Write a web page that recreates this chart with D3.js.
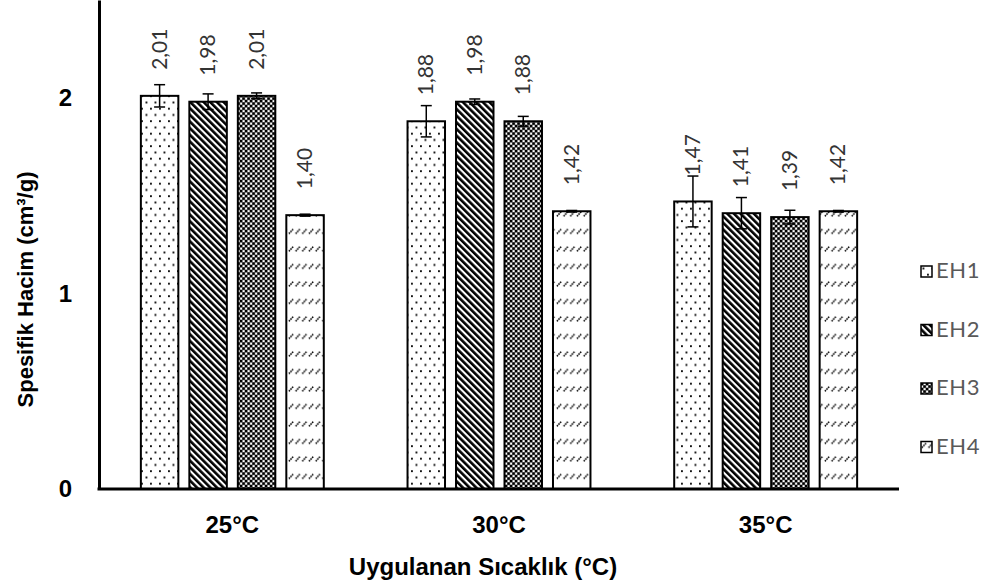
<!DOCTYPE html>
<html>
<head>
<meta charset="utf-8">
<script src="https://cdn.jsdelivr.net/npm/d3@7"></script>
<style>
  html, body { margin: 0; padding: 0; background: #fff; }
  svg { display: block; }
</style>
</head>
<body>
<svg id="chart" width="991" height="583"></svg>
<script>
// Specific volume of four formulations at three applied temperatures
const categories = ["25°C", "30°C", "35°C"];
const seriesNames = ["EH1", "EH2", "EH3", "EH4"];
const eh1 = [2.01, 1.88, 1.47];
const eh2 = [1.98, 1.98, 1.41];
const eh3 = [2.01, 1.88, 1.39];
const eh4 = [1.40, 1.42, 1.42];
const eh1Err = [0.057, 0.08, 0.13];
const eh2Err = [0.04, 0.014, 0.08];
const eh3Err = [0.015, 0.025, 0.035];
const eh4Err = [0.005, 0.004, 0.004];
const yTickValues = [0, 1, 2];
const yTitle = "Spesifik Hacim (cm³/g)";
const xTitle = "Uygulanan Sıcaklık (°C)";

const seriesValues = [eh1, eh2, eh3, eh4];
const seriesErrors = [eh1Err, eh2Err, eh3Err, eh4Err];

const rows = [];
categories.forEach((c, ci) => {
  seriesNames.forEach((s, si) => {
    rows.push({ cat: c, series: s, si, value: seriesValues[si][ci], err: seriesErrors[si][ci] });
  });
});

const svg = d3.select("#chart");
const plotLeft = 99, plotRight = 899, plotBottom = 489, plotTop = 0;
const axisFont = "'Liberation Sans', Arial, sans-serif";
const labelFont = "Lato, 'Open Sans', sans-serif";

// ---- fill patterns ----
const defs = svg.append("defs");

// EH1: sparse staggered dots
const p1 = defs.append("pattern").attr("id", "pat-EH1").attr("patternUnits", "userSpaceOnUse")
  .attr("width", 9).attr("height", 12.5);
p1.append("rect").attr("width", 9).attr("height", 12.5).attr("fill", "#fff");
p1.append("rect").attr("x", 1.5).attr("y", 1.5).attr("width", 1.9).attr("height", 1.9).attr("fill", "#111");
p1.append("rect").attr("x", 6).attr("y", 7.75).attr("width", 1.9).attr("height", 1.9).attr("fill", "#111");

// EH2: wide downward diagonal stripes
const p2 = defs.append("pattern").attr("id", "pat-EH2").attr("patternUnits", "userSpaceOnUse")
  .attr("width", 4.7).attr("height", 10).attr("patternTransform", "rotate(-45)");
p2.append("rect").attr("width", 4.7).attr("height", 10).attr("fill", "#fff");
p2.append("rect").attr("width", 2.6).attr("height", 10).attr("fill", "#000");

// EH3: small checker / diamond mesh
const p3 = defs.append("pattern").attr("id", "pat-EH3").attr("patternUnits", "userSpaceOnUse")
  .attr("width", 5).attr("height", 5);
p3.append("rect").attr("width", 5).attr("height", 5).attr("fill", "#666");
p3.append("rect").attr("x", 0).attr("y", 0).attr("width", 2.2).attr("height", 2.2).attr("fill", "#000");
p3.append("rect").attr("x", 2.5).attr("y", 2.5).attr("width", 2.2).attr("height", 2.2).attr("fill", "#000");
p3.append("rect").attr("x", 2.7).attr("y", 0.2).attr("width", 1.8).attr("height", 1.8).attr("fill", "#fff");
p3.append("rect").attr("x", 0.2).attr("y", 2.7).attr("width", 1.8).attr("height", 1.8).attr("fill", "#fff");

// EH4: rows of short upward dashes
const p4 = defs.append("pattern").attr("id", "pat-EH4").attr("patternUnits", "userSpaceOnUse")
  .attr("width", 6.7).attr("height", 17.5);
p4.append("rect").attr("width", 6.7).attr("height", 17.5).attr("fill", "#fff");
p4.append("line").attr("x1", 0.8).attr("y1", 6.2).attr("x2", 5.4).attr("y2", 1.2)
  .attr("stroke", "#000").attr("stroke-width", 1.5).attr("stroke-dasharray", "1.6 0.7");

// ---- scales ----
const x0 = d3.scaleBand().domain(categories).range([plotLeft, plotRight]).paddingInner(0.314).paddingOuter(0.157);
const x1 = d3.scaleBand().domain(seriesNames).range([0, x0.bandwidth()]).paddingInner(0.227).paddingOuter(0);
const y = d3.scaleLinear().domain([0, 2.5]).range([plotBottom, plotTop]);

// ---- bars ----
const g = svg.append("g");
g.selectAll("rect.bar").data(rows).join("rect")
  .attr("class", "bar")
  .attr("x", d => x0(d.cat) + x1(d.series))
  .attr("y", d => y(d.value))
  .attr("width", x1.bandwidth())
  .attr("height", d => y(0) - y(d.value))
  .attr("fill", d => `url(#pat-${d.series})`)
  .attr("stroke", "#000")
  .attr("stroke-width", 2);

// ---- error bars ----
const cap = 5.5;
const eb = g.selectAll("g.err").data(rows).join("g").attr("class", "err")
  .attr("transform", d => `translate(${x0(d.cat) + x1(d.series) + x1.bandwidth() / 2},0)`);
eb.append("line").attr("x1", 0).attr("x2", 0)
  .attr("y1", d => y(d.value + d.err)).attr("y2", d => y(d.value - d.err))
  .attr("stroke", "#000").attr("stroke-width", 1.5);
eb.append("line").attr("x1", -cap).attr("x2", cap)
  .attr("y1", d => y(d.value + d.err)).attr("y2", d => y(d.value + d.err))
  .attr("stroke", "#000").attr("stroke-width", 1.5);
eb.append("line").attr("x1", -cap).attr("x2", cap)
  .attr("y1", d => y(d.value - d.err)).attr("y2", d => y(d.value - d.err))
  .attr("stroke", "#000").attr("stroke-width", 1.5);

// ---- value labels (rotated) ----
const fmt = v => d3.format(".2f")(v).replace(".", ",");
g.selectAll("text.val").data(rows).join("text")
  .attr("class", "val")
  .attr("transform", d => `translate(${x0(d.cat) + x1(d.series) + x1.bandwidth() / 2 + 7},${y(d.value) - 26}) rotate(-90)`)
  .attr("text-anchor", "start")
  .attr("font-family", labelFont)
  .attr("font-size", 21)
  .attr("fill", "#333")
  .text(d => fmt(d.value));

// ---- axes ----
const yAxis = d3.axisLeft(y).tickValues(yTickValues).tickFormat(d3.format("d")).tickSize(0).tickPadding(27);
const yg = svg.append("g").attr("transform", `translate(${plotLeft},0)`).call(yAxis);
yg.select(".domain").attr("stroke", "#000").attr("stroke-width", 3);
yg.selectAll("text").attr("font-family", axisFont)
  .attr("font-weight", "bold").attr("font-size", 24).attr("fill", "#000");

const xAxis = d3.axisBottom(x0).tickSize(0).tickPadding(27);
const xg = svg.append("g").attr("transform", `translate(0,${plotBottom})`).call(xAxis);
xg.select(".domain").attr("stroke", "#000").attr("stroke-width", 3)
  .attr("d", `M${plotLeft - 1.5},0H${plotRight}`);
xg.selectAll("text").attr("font-family", axisFont)
  .attr("font-weight", "bold").attr("font-size", 24).attr("fill", "#000");

// ---- axis titles ----
svg.append("text")
  .attr("transform", `translate(33,${(plotTop + plotBottom) / 2 + 45}) rotate(-90)`)
  .attr("text-anchor", "middle")
  .attr("font-family", axisFont)
  .attr("font-weight", "bold").attr("font-size", 22).attr("fill", "#000")
  .text(yTitle);

svg.append("text")
  .attr("x", 483).attr("y", 575)
  .attr("text-anchor", "middle")
  .attr("font-family", axisFont)
  .attr("font-weight", "bold").attr("font-size", 24).attr("fill", "#000")
  .text(xTitle);

// ---- legend ----
const legend = svg.append("g").attr("transform", "translate(921,266)");
const li = legend.selectAll("g").data(seriesNames).join("g")
  .attr("transform", (d, i) => `translate(0,${i * 58.5})`);
li.append("rect").attr("width", 11).attr("height", 11)
  .attr("fill", d => `url(#pat-${d})`).attr("stroke", "#000").attr("stroke-width", 1.5);
li.append("text").attr("x", 15).attr("y", 12)
  .attr("font-family", labelFont)
  .attr("font-size", 22).attr("letter-spacing", 0.6).attr("fill", "#595959")
  .text(d => d);
</script>
</body>
</html>
